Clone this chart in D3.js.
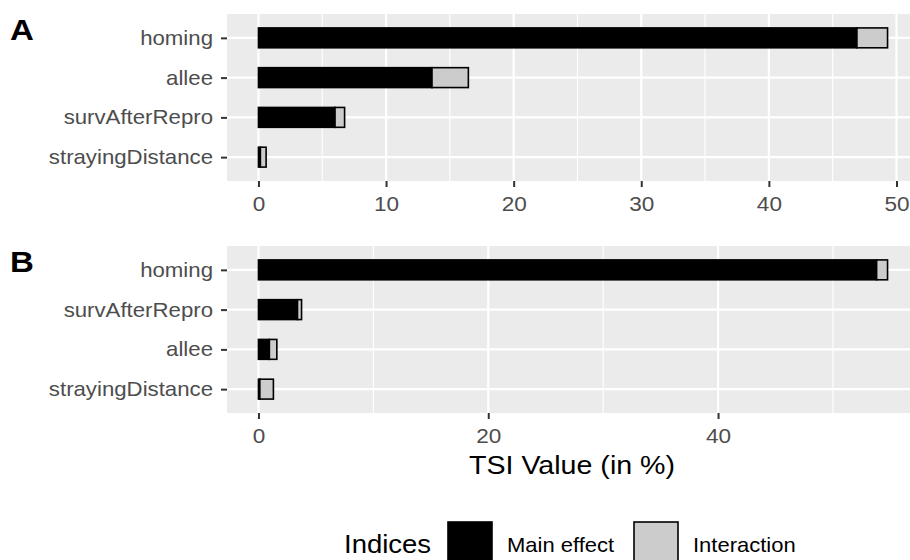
<!DOCTYPE html>
<html>
<head>
<meta charset="utf-8">
<script src="https://cdn.jsdelivr.net/npm/d3@7"></script>
<style>
  body { margin: 0; background: #fff; }
  svg { display: block; font-family: "Liberation Sans", Arial, Helvetica, sans-serif; }
</style>
</head>
<body>
<svg id="chart" width="910" height="560"></svg>
<script>
// ---- data ----
const catsA = ["homing", "allee", "survAfterRepro", "strayingDistance"];
const mainA = [46.9, 13.6, 6.0, 0.15];
const interA = [2.4, 2.85, 0.75, 0.45];
const ticksA = [0, 10, 20, 30, 40, 50];
const minorA = [5, 15, 25, 35, 45];

const catsB = ["homing", "survAfterRepro", "allee", "strayingDistance"];
const mainB = [53.8, 3.4, 0.95, 0.12];
const interB = [0.95, 0.35, 0.65, 1.18];
const ticksB = [0, 20, 40];
const minorB = [10, 30, 50];

const seriesNames = ["Main effect", "Interaction"];
const seriesColors = ["#000000", "#cccccc"];
const legendTitle = "Indices";
const xTitle = "TSI Value (in %)";

// ---- layout ----
const svg = d3.select("#chart");
const SX = 1.1; // horizontal text stretch of the original
const panelLeft = 227, panelRight = 919;
const textCol = "#4d4d4d";

function panel(tag, cats, main, inter, ticks, minor, top, bottom, tagY) {
  const totals = main.map((m, i) => m + inter[i]);
  const maxV = d3.max(totals);
  const exp = 0.05 * maxV;
  const x = d3.scaleLinear().domain([-exp, maxV + exp]).range([panelLeft, panelRight]);
  const y = d3.scalePoint().domain(cats).range([top, bottom]).padding(0.6);
  const bw = y.step() * 0.5;

  const g = svg.append("g");
  g.append("rect").attr("x", panelLeft).attr("y", top)
    .attr("width", panelRight - panelLeft).attr("height", bottom - top)
    .attr("fill", "#ebebeb");
  // minor grid
  g.selectAll(".minor").data(minor).join("line")
    .attr("x1", d => x(d)).attr("x2", d => x(d)).attr("y1", top).attr("y2", bottom)
    .attr("stroke", "#fff").attr("stroke-width", 1.1);
  // major grid
  g.selectAll(".majx").data(ticks).join("line")
    .attr("x1", d => x(d)).attr("x2", d => x(d)).attr("y1", top).attr("y2", bottom)
    .attr("stroke", "#fff").attr("stroke-width", 2.2);
  g.selectAll(".majy").data(cats).join("line")
    .attr("x1", panelLeft).attr("x2", panelRight).attr("y1", d => y(d)).attr("y2", d => y(d))
    .attr("stroke", "#fff").attr("stroke-width", 2.2);

  // stacked bars
  const rows = cats.map((c, i) => ({ c, parts: [[0, main[i]], [main[i], main[i] + inter[i]]] }));
  rows.forEach(r => {
    r.parts.forEach((p, k) => {
      g.append("rect")
        .attr("x", x(p[0])).attr("y", y(r.c) - bw / 2)
        .attr("width", Math.max(0, x(p[1]) - x(p[0]))).attr("height", bw)
        .attr("fill", seriesColors[k]).attr("stroke", "#000").attr("stroke-width", 1.6);
    });
  });

  // x axis
  const ax = g.append("g").attr("transform", `translate(0,${bottom})`)
    .call(d3.axisBottom(x).tickValues(ticks).tickSize(6).tickPadding(9).tickFormat(d3.format("d")));
  ax.select(".domain").remove();
  ax.selectAll(".tick line").attr("stroke", "#333").attr("stroke-width", 2);
  ax.selectAll(".tick text").attr("fill", textCol).attr("font-size", 20.5)
    .attr("font-family", "Liberation Sans, Arial, sans-serif")
    .attr("transform", `scale(${SX},1)`);

  // y axis
  const ay = g.append("g").attr("transform", `translate(${panelLeft},0)`)
    .call(d3.axisLeft(y).tickSize(6).tickPadding(8));
  ay.select(".domain").remove();
  ay.selectAll(".tick line").attr("stroke", "#333").attr("stroke-width", 2);
  ay.selectAll(".tick text").attr("fill", textCol).attr("font-size", 20.2)
    .attr("font-family", "Liberation Sans, Arial, sans-serif")
    .attr("x", null)
    .attr("transform", `translate(-14,0) scale(${SX},1)`);

  // tag
  svg.append("text").attr("transform", `translate(10,${tagY}) scale(${SX},1)`)
    .attr("font-size", 30).attr("font-weight", "bold").attr("fill", "#000").text(tag);
}

panel("A", catsA, mainA, interA, ticksA, minorA, 14, 181, 40);
panel("B", catsB, mainB, interB, ticksB, minorB, 246, 413, 272);

// x axis title
svg.append("text").attr("transform", `translate(572,474) scale(${SX},1)`)
  .attr("text-anchor", "middle").attr("font-size", 26).attr("fill", "#000").text(xTitle);

// legend
const lg = svg.append("g");
lg.append("text").attr("transform", `translate(344,553) scale(${SX},1)`)
  .attr("font-size", 25).attr("fill", "#000").text(legendTitle);
const keyX = [448, 634], labX = [507, 693];
seriesNames.forEach((n, i) => {
  lg.append("rect").attr("x", keyX[i]).attr("y", 522).attr("width", 44).attr("height", 44)
    .attr("fill", seriesColors[i]).attr("stroke", "#000").attr("stroke-width", 1.6);
  lg.append("text").attr("transform", `translate(${labX[i]},552) scale(${SX},1)`)
    .attr("font-size", 20).attr("fill", "#000").text(n);
});
</script>
</body>
</html>
